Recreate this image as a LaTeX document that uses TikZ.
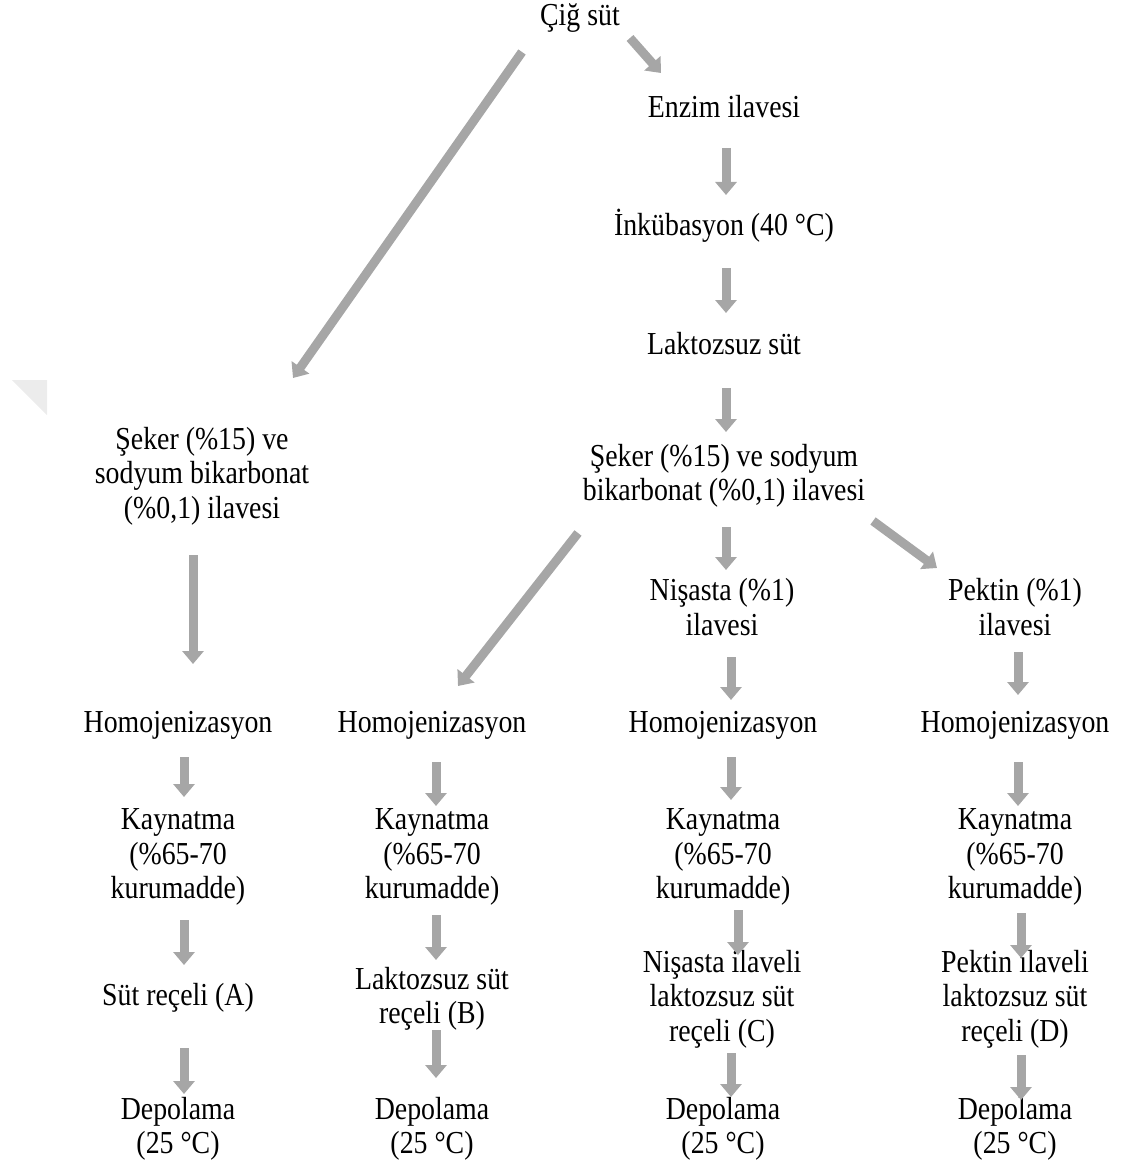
\documentclass[tikz,border=0pt]{standalone}
\usepackage{fontspec}
\setmainfont{Liberation Serif}[FakeStretch=0.87]
\usetikzlibrary{arrows.meta,calc}
\definecolor{arrowgray}{RGB}{166,166,166}
\definecolor{markgray}{RGB}{236,236,236}
\begin{document}
\begin{tikzpicture}[x=1pt,y=-1pt,
  lbl/.style={align=center,inner sep=0pt,font=\fontsize{32}{34.5}\selectfont},
  arr/.style={draw=arrowgray,line width=9pt,-{Triangle[width=21pt,length=13pt]},fill=arrowgray}]
\useasboundingbox (0,0) rectangle (1123,1169);
% faint mark at left edge
\fill[markgray] (12,380) -- (47,380) -- (47,415) -- cycle;
% nodes
\node[lbl] (cig) at (580,18) {Çiğ süt};
\node[lbl] (enzim) at (724,107) {Enzim ilavesi};
\node[lbl] (inku) at (724,226) {İnkübasyon (40 °C)};
\node[lbl] (lakt) at (724,344) {Laktozsuz süt};
\node[lbl] (sekR) at (724,476) {Şeker (\%15) ve sodyum\\bikarbonat (\%0,1) ilavesi};
\node[lbl] (sekL) at (202,476) {Şeker (\%15) ve\\sodyum bikarbonat\\(\%0,1) ilavesi};
\node[lbl] (nis) at (722,607) {Nişasta (\%1)\\ilavesi};
\node[lbl] (pek) at (1015,607) {Pektin (\%1)\\ilavesi};
\node[lbl] (homA) at (178,725) {Homojenizasyon};
\node[lbl] (homB) at (432,725) {Homojenizasyon};
\node[lbl] (homC) at (723,725) {Homojenizasyon};
\node[lbl] (homD) at (1015,725) {Homojenizasyon};
\node[lbl] (kayA) at (178,857) {Kaynatma\\(\%65-70\\kurumadde)};
\node[lbl] (kayB) at (432,857) {Kaynatma\\(\%65-70\\kurumadde)};
\node[lbl] (kayC) at (723,857) {Kaynatma\\(\%65-70\\kurumadde)};
\node[lbl] (kayD) at (1015,857) {Kaynatma\\(\%65-70\\kurumadde)};
\node[lbl] (resA) at (178,998) {Süt reçeli (A)};
\node[lbl] (resB) at (432,999) {Laktozsuz süt\\reçeli (B)};
\node[lbl] (resC) at (722,999) {Nişasta ilaveli\\laktozsuz süt\\reçeli (C)};
\node[lbl] (resD) at (1015,999) {Pektin ilaveli\\laktozsuz süt\\reçeli (D)};
\node[lbl] (depA) at (178,1129) {Depolama\\(25 °C)};
\node[lbl] (depB) at (432,1129) {Depolama\\(25 °C)};
\node[lbl] (depC) at (723,1129) {Depolama\\(25 °C)};
\node[lbl] (depD) at (1015,1129) {Depolama\\(25 °C)};
% connectors
\draw[arr] ($(cig)+(-58,34)$) -- ($(sekL)+(91,-98)$);
\draw[arr] ($(cig)+(50,20)$) -- ($(enzim)+(-63,-34)$);
\draw[arr] ($(enzim)+(2,41)$) -- ($(inku)+(2,-31)$);
\draw[arr] ($(inku)+(2,42)$) -- ($(lakt)+(2,-31)$);
\draw[arr] ($(lakt)+(2,44)$) -- ($(sekR)+(2,-44)$);
\draw[arr] ($(sekR)+(-146,57)$) -- ($(homB)+(26,-39)$);
\draw[arr] ($(sekR)+(2,51)$) -- ($(nis)+(4,-37)$);
\draw[arr] ($(sekR)+(149,45)$) -- ($(pek)+(-78,-39)$);
\draw[arr] ($(sekL)+(-9,79)$) -- ($(homA)+(15,-61)$);
\draw[arr] ($(nis)+(9,50)$) -- ($(homC)+(8,-25)$);
\draw[arr] ($(pek)+(3,45)$) -- ($(homD)+(3,-30)$);
\draw[arr] ($(homA)+(6,32)$) -- ($(kayA)+(6,-60)$);
\draw[arr] ($(homB)+(4,37)$) -- ($(kayB)+(4,-51)$);
\draw[arr] ($(homC)+(8,32)$) -- ($(kayC)+(8,-57)$);
\draw[arr] ($(homD)+(3,37)$) -- ($(kayD)+(3,-51)$);
\draw[arr] ($(kayA)+(6,63)$) -- ($(resA)+(6,-33)$);
\draw[arr] ($(kayB)+(4,58)$) -- ($(resB)+(4,-39)$);
\draw[arr] ($(kayC)+(15,53)$) -- ($(resC)+(16,-44)$);
\draw[arr] ($(kayD)+(6,56)$) -- ($(resD)+(6,-41)$);
\draw[arr] ($(resA)+(6,50)$) -- ($(depA)+(6,-35)$);
\draw[arr] ($(resB)+(4,31)$) -- ($(depB)+(4,-51)$);
\draw[arr] ($(resC)+(9,54)$) -- ($(depC)+(8,-32)$);
\draw[arr] ($(resD)+(6,56)$) -- ($(depD)+(6,-29)$);
\end{tikzpicture}
\end{document}
